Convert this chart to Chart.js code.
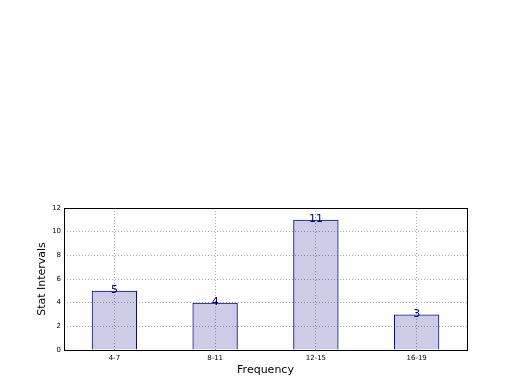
<!DOCTYPE html>
<html>
<head>
<meta charset="utf-8">
<script src="https://cdn.jsdelivr.net/npm/chart.js@4"></script>
<style>
  html, body { margin: 0; padding: 0; background: #fff; }
  #wrap { width: 520px; height: 390px; }
</style>
</head>
<body>
<div id="wrap"><canvas id="myChart" width="520" height="390"></canvas></div>
<script>
// chart data
const categories = ["4-7", "8-11", "12-15", "16-19"];
const counts = [5, 4, 11, 3];
const yTicks = [0, 2, 4, 6, 8, 10, 12];

const navy = "#000080";
const font = "'DejaVu Sans', sans-serif";

// value labels above each bar
const barLabels = {
  id: "barLabels",
  afterDatasetsDraw(chart) {
    const ctx = chart.ctx;
    const meta = chart.getDatasetMeta(0);
    ctx.save();
    ctx.fillStyle = navy;
    ctx.font = "11px " + font;
    ctx.textAlign = "center";
    ctx.textBaseline = "alphabetic";
    meta.data.forEach((bar, i) => {
      ctx.fillText(String(counts[i]), bar.x, bar.y + 2);
    });
    ctx.restore();
  }
};

// black frame round the plot
const frame = {
  id: "frame",
  afterDraw(chart) {
    const a = chart.chartArea;
    const ctx = chart.ctx;
    ctx.save();
    ctx.strokeStyle = "#000";
    ctx.lineWidth = 1;
    ctx.strokeRect(Math.round(a.left) + 0.5, Math.round(a.top) + 0.5,
      Math.round(a.right - a.left), Math.round(a.bottom - a.top));
    ctx.restore();
  }
};

new Chart("myChart", {
  type: "bar",
  data: {
    labels: categories,
    datasets: [{
      data: counts,
      backgroundColor: "rgba(0,0,128,0.2)",
      borderColor: navy,
      borderWidth: 1,
      barPercentage: 0.45,
      categoryPercentage: 1
    }]
  },
  options: {
    responsive: false,
    animation: false,
    layout: { padding: { top: 208, right: 53, left: 0, bottom: 0 } },
    plugins: {
      legend: { display: false },
      tooltip: { enabled: false }
    },
    scales: {
      x: {
        grid: {
          offset: false,
          color: "#a8a8a8",
          lineWidth: 1,
          drawTicks: false
        },
        border: { display: false, dash: [1, 2] },
        ticks: { color: "#000", font: { family: font, size: 7 }, padding: 4, maxRotation: 0 },
        title: {
          display: true,
          text: "Frequency",
          color: "#000",
          font: { family: font, size: 11 },
          padding: { top: 0, bottom: 13 }
        },
        afterFit(scale) { scale.height = 40; }
      },
      y: {
        min: 0,
        max: 12,
        afterBuildTicks(scale) { scale.ticks = yTicks.map(v => ({ value: v })); },
        grid: {
          color: "#a8a8a8",
          lineWidth: 1,
          drawTicks: false
        },
        border: { display: false, dash: [1, 2] },
        ticks: { color: "#000", font: { family: font, size: 7 }, padding: 3 },
        title: {
          display: true,
          text: "Stat Intervals",
          color: "#000",
          font: { family: font, size: 11 },
          padding: { top: 36, bottom: 0 }
        },
        afterFit(scale) { scale.width = 64; }
      }
    }
  },
  plugins: [barLabels, frame]
});
</script>
</body>
</html>
